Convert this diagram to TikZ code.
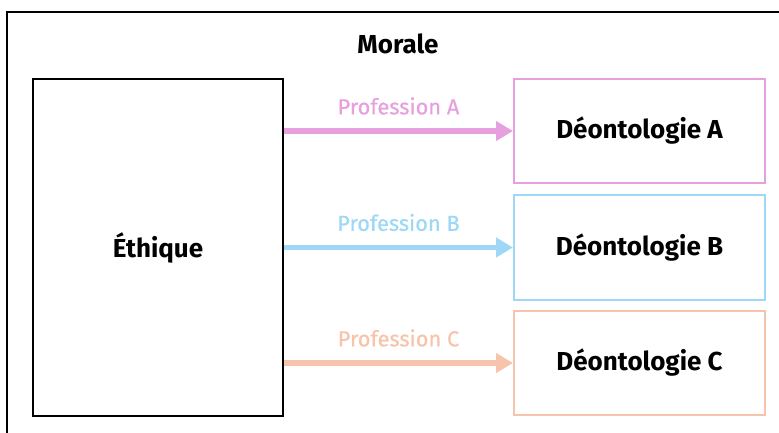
\documentclass[tikz,border=0pt]{standalone}
\usepackage{fontspec}
\setmainfont{Fira Sans}
\newfontfamily\labelfont{Fira Sans}[FakeBold=0.6]
\usetikzlibrary{arrows.meta}
\definecolor{profA}{RGB}{230,160,222}
\definecolor{profB}{RGB}{158,216,246}
\definecolor{profC}{RGB}{246,196,170}
\tikzset{
  titletext/.style={font=\fontsize{26}{30}\selectfont\bfseries},
  box/.style={draw, line width=2pt, inner sep=0pt, titletext},
  deonto/.style={box, minimum width=251pt, minimum height=104pt},
  flow/.style={line width=5.5pt, -{Triangle[length=17pt,width=19pt]}},
  flowlabel/.style={midway, yshift=25pt, font=\labelfont\fontsize{21.8}{25}\selectfont}
}
\begin{document}
\begin{tikzpicture}[x=1pt,y=-1pt]
  \useasboundingbox (0,0) rectangle (779,433);
  % outer frame, open to the right and bottom
  \draw[line width=2pt] (7,433) -- (7,12) -- (779,12);
  \node[titletext] (morale) at (398,44) {Morale};
  \node[box, minimum width=250pt, minimum height=337pt] (ethique) at (158,247.5) {Éthique};
  \node[deonto, draw=profA] (dA) at (639.5,131) {Déontologie A};
  \node[deonto, draw=profB, minimum height=105pt] (dB) at (639.5,247.5) {Déontologie B};
  \node[deonto, draw=profC] (dC) at (639.5,363) {Déontologie C};
  \draw[flow, profA] (ethique.east |- dA.west) -- (dA.west)
    node[flowlabel, text=profA] {Profession A};
  \draw[flow, profB] (ethique.east |- dB.west) -- (dB.west)
    node[flowlabel, text=profB] {Profession B};
  \draw[flow, profC] (ethique.east |- dC.west) -- (dC.west)
    node[flowlabel, text=profC] {Profession C};
\end{tikzpicture}
\end{document}
